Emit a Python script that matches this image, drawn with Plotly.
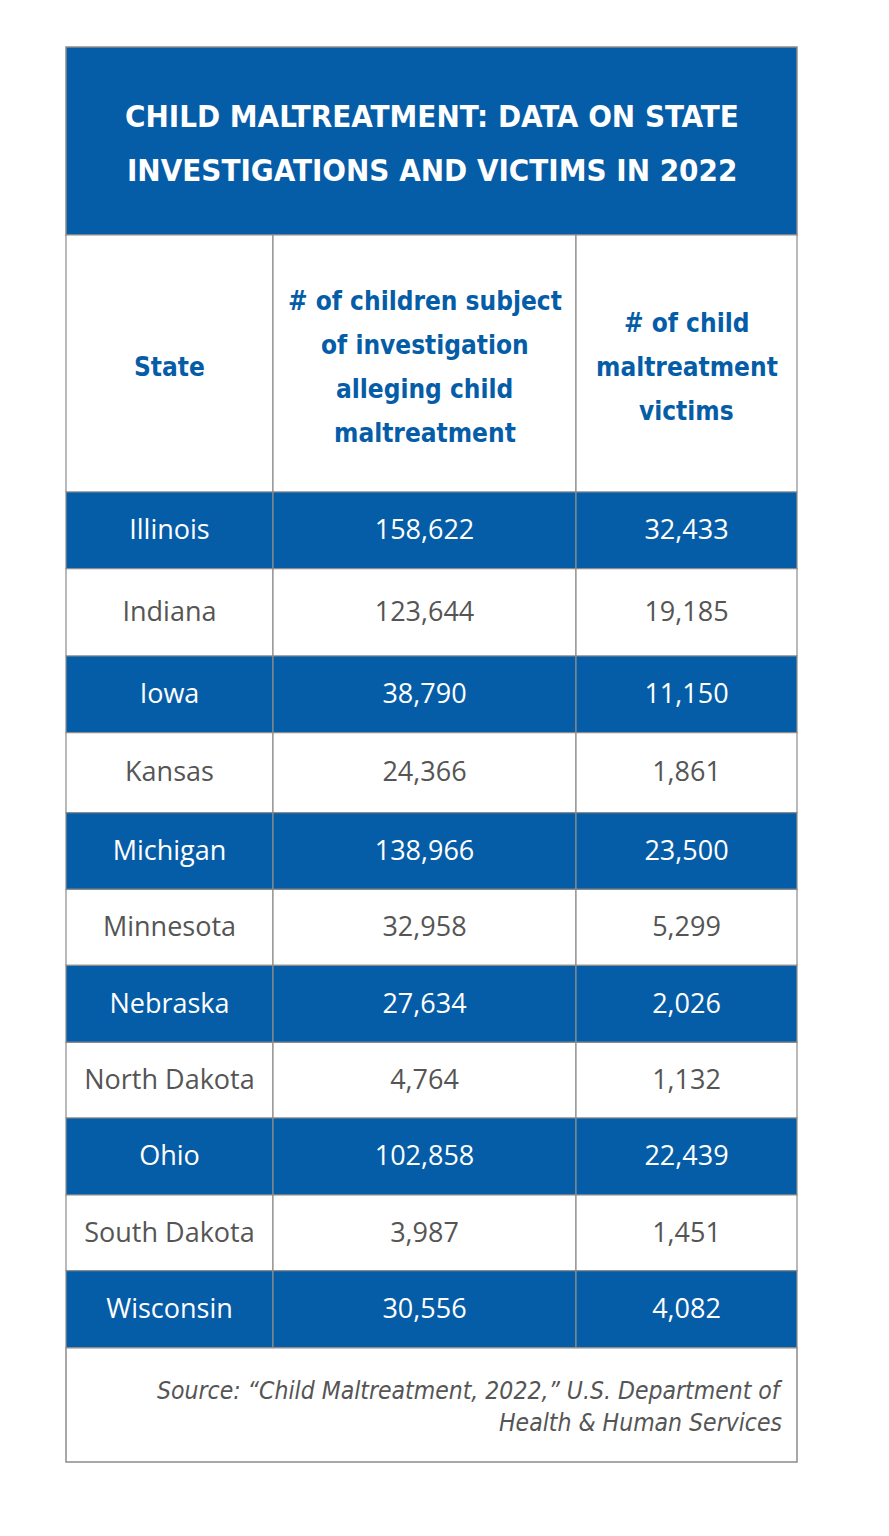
import plotly.graph_objects as go

# Data
states = ["Illinois", "Indiana", "Iowa", "Kansas", "Michigan", "Minnesota",
          "Nebraska", "North Dakota", "Ohio", "South Dakota", "Wisconsin"]
investigated = [158622, 123644, 38790, 24366, 138966, 32958,
                27634, 4764, 102858, 3987, 30556]
victims = [32433, 19185, 11150, 1861, 23500, 5299,
           2026, 1132, 22439, 1451, 4082]

title_lines = ["CHILD MALTREATMENT: DATA ON STATE", "INVESTIGATIONS AND VICTIMS IN 2022"]
header_lines = [["State"],
                ["# of children subject", "of investigation", "alleging child", "maltreatment"],
                ["# of child", "maltreatment", "victims"]]
source_lines = ["Source: \u201cChild Maltreatment, 2022,\u201d U.S. Department of",
                "Health & Human Services"]

# Layout constants (pixels of the page)
W, H = 889, 1536
OFF = 8  # default body margin of the html page
BLUE = "#065DA7"
GRID = "#8C8C8C"
DARK = "#555555"
COND = "DejaVu Sans Condensed, Roboto Condensed, Roboto"
col_edges = [66, 273, 576, 797]
title_top, header_top = 47, 235
row_edges = [492, 568.7, 656, 732.7, 812.7, 889.3, 965.3, 1042.3, 1118, 1195, 1270.7, 1347.7]
body_top, body_bottom = row_edges[0], row_edges[-1]
source_bottom = 1462

col_mid = [(col_edges[i] + col_edges[i + 1]) / 2 for i in range(3)]
shapes = []

# title band
shapes.append(dict(type="rect", xref="x", yref="y", x0=col_edges[0], x1=col_edges[-1],
                   y0=title_top, y1=header_top, fillcolor=BLUE,
                   line=dict(color=GRID, width=1.5), layer="below"))
# header cells
for i in range(3):
    shapes.append(dict(type="rect", xref="x", yref="y", x0=col_edges[i], x1=col_edges[i + 1],
                       y0=header_top, y1=body_top, fillcolor="white",
                       line=dict(color=GRID, width=1.2), layer="below"))
# body cells
for r in range(len(states)):
    fill = BLUE if r % 2 == 0 else "white"
    for i in range(3):
        shapes.append(dict(type="rect", xref="x", yref="y", x0=col_edges[i], x1=col_edges[i + 1],
                           y0=row_edges[r], y1=row_edges[r + 1],
                           fillcolor=fill, line=dict(color=GRID, width=1.2), layer="below"))
# source band
shapes.append(dict(type="rect", xref="x", yref="y", x0=col_edges[0], x1=col_edges[-1],
                   y0=body_bottom, y1=source_bottom, fillcolor="white",
                   line=dict(color=GRID, width=1.5), layer="below"))

fig = go.Figure()

# body text through scatter text traces
row_y = [(row_edges[r] + row_edges[r + 1]) / 2 + 2 for r in range(len(states))]
colors = ["white" if r % 2 == 0 else DARK for r in range(len(states))]
columns = [states, [f"{v:,}" for v in investigated], [f"{v:,}" for v in victims]]
for i, col in enumerate(columns):
    fig.add_trace(go.Scatter(
        x=[col_mid[i]] * len(col), y=row_y, text=col, mode="text",
        textposition="middle center",
        textfont=dict(family="Open Sans", size=27, color=colors),
        hoverinfo="skip", showlegend=False))

annotations = []
# title
title_mid = (title_top + header_top) / 2 + 2
for k, line in enumerate(title_lines):
    annotations.append(dict(x=(col_edges[0] + col_edges[-1]) / 2,
                            y=title_mid + (k - 0.5) * 54, xref="x", yref="y",
                            text=f"<b>{line}</b>", showarrow=False,
                            font=dict(family=COND, size=31, color="white")))
# header
header_mid = (header_top + body_top) / 2 + 3
for i, lines in enumerate(header_lines):
    n = len(lines)
    for k, line in enumerate(lines):
        annotations.append(dict(x=col_mid[i], y=header_mid + (k - (n - 1) / 2) * 44,
                                xref="x", yref="y", text=f"<b>{line}</b>", showarrow=False,
                                font=dict(family=COND, size=26, color=BLUE)))
# source
source_mid = (body_bottom + source_bottom) / 2 + 2
for k, line in enumerate(source_lines):
    annotations.append(dict(x=col_edges[-1] - 12, y=source_mid + (k - 0.5) * 32,
                            xref="x", yref="y", text=f"<i>{line}</i>", showarrow=False,
                            xanchor="right",
                            font=dict(family=COND, size=24.5, color="#555555")))

fig.update_layout(
    width=W - OFF, height=H - OFF,
    margin=dict(l=0, r=0, t=0, b=0),
    paper_bgcolor="white", plot_bgcolor="white",
    xaxis=dict(range=[OFF, W], visible=False, fixedrange=True),
    yaxis=dict(range=[H, OFF], visible=False, fixedrange=True),
    shapes=shapes, annotations=annotations,
)

fig.write_html("out.html")
